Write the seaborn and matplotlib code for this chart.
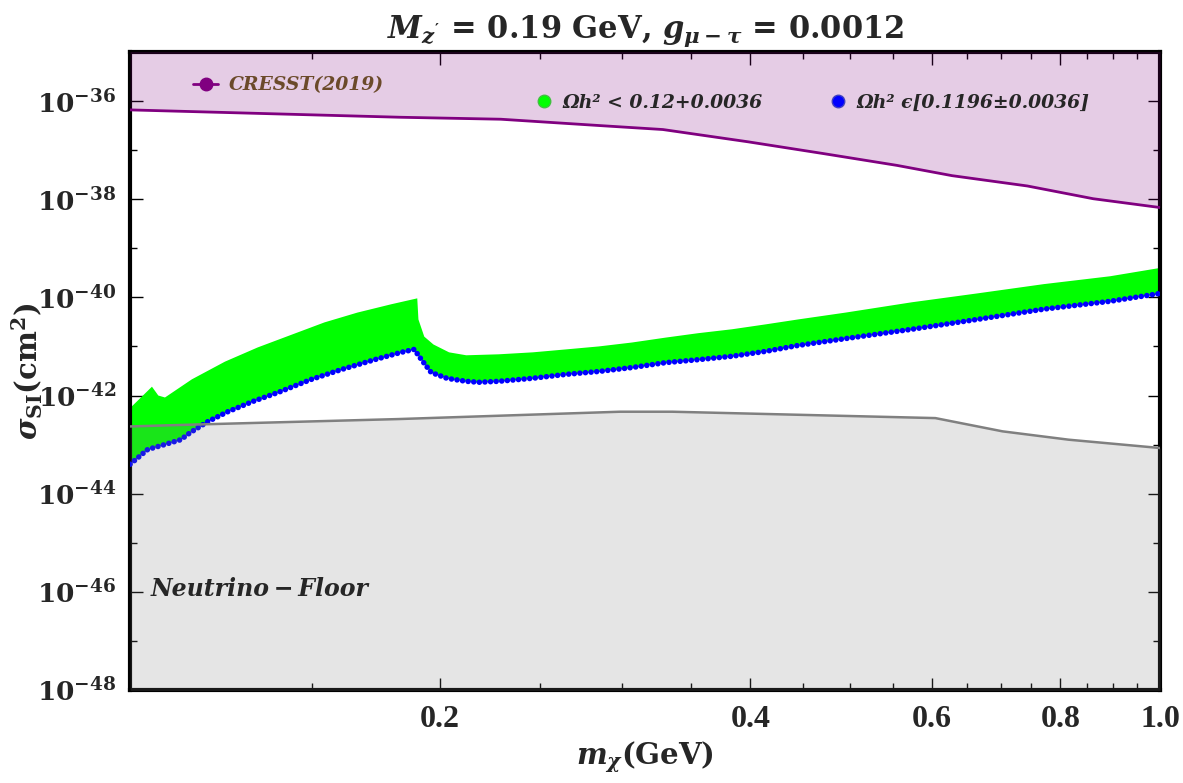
import numpy as np
import matplotlib
matplotlib.use("Agg")
import matplotlib.pyplot as plt
import matplotlib.ticker as mticker
from matplotlib.lines import Line2D
import seaborn as sns

# CRESST (2019) exclusion limit, log10(sigma / cm^2)
cresst_m = [0.1, 0.183, 0.229, 0.286, 0.329, 0.398, 0.471, 0.555, 0.628, 0.743, 0.861, 1.0]
cresst_log = [-36.18, -36.33, -36.37, -36.50, -36.58, -36.83, -37.07, -37.31, -37.52, -37.73, -37.99, -38.17]

# neutrino floor
floor_m = [0.1, 0.1162, 0.182, 0.299, 0.336, 0.605, 0.703, 0.815, 1.0]
floor_log = [-42.63, -42.59, -42.48, -42.33, -42.33, -42.46, -42.73, -42.90, -43.07]

# upper edge of the relic-allowed (green) points
upper_m = [0.1, 0.1004, 0.1050, 0.1065, 0.1081, 0.1148, 0.1236, 0.133, 0.1435, 0.1544,
           0.1662, 0.1793, 0.190, 0.1905, 0.193, 0.197, 0.204, 0.212, 0.228, 0.246,
           0.265, 0.285, 0.307, 0.331, 0.356, 0.384, 0.414, 0.445, 0.495, 0.574,
           0.664, 0.771, 0.894, 1.0]
upper_log = [-42.22, -42.22, -41.82, -42.00, -42.04, -41.67, -41.31, -41.02, -40.76, -40.51,
             -40.31, -40.14, -40.02, -40.45, -40.80, -40.96, -41.12, -41.18, -41.16, -41.12,
             -41.06, -41.00, -40.92, -40.82, -40.73, -40.65, -40.55, -40.45, -40.31, -40.10,
             -39.92, -39.73, -39.57, -39.40]

# lower edge = points with the exact relic density (blue)
lower_m = [0.1, 0.104, 0.108, 0.112, 0.1143, 0.119, 0.1244, 0.1316, 0.1391, 0.150,
           0.1604, 0.1727, 0.1833, 0.1887, 0.1918, 0.196, 0.2031, 0.2119, 0.218, 0.228,
           0.2456, 0.2647, 0.285, 0.307, 0.331, 0.356, 0.384, 0.414, 0.445, 0.495,
           0.574, 0.664, 0.771, 0.894, 1.0]
lower_log = [-43.40, -43.10, -43.00, -42.90, -42.76, -42.53, -42.33, -42.12, -41.94, -41.67,
             -41.47, -41.27, -41.12, -41.06, -41.27, -41.53, -41.65, -41.71, -41.73, -41.71,
             -41.65, -41.57, -41.51, -41.43, -41.33, -41.27, -41.20, -41.10, -40.98, -40.84,
             -40.65, -40.45, -40.24, -40.08, -39.92]

xticks = [0.2, 0.4, 0.6, 0.8, 1.0]
xticklabels = ["0.2", "0.4", "0.6", "0.8", "1.0"]

sns.set_style("ticks")
plt.rcParams['font.family'] = ['DejaVu Serif']
plt.rcParams['mathtext.fontset'] = 'custom'
plt.rcParams['mathtext.rm'] = 'DejaVu Serif:bold'
plt.rcParams['mathtext.bf'] = 'DejaVu Serif:bold'
plt.rcParams['mathtext.it'] = 'DejaVu Serif:bold:italic'

cresst_s = 10.0 ** np.array(cresst_log)
floor_s = 10.0 ** np.array(floor_log)
upper_s = 10.0 ** np.array(upper_log)
lower_s = 10.0 ** np.array(lower_log)

fig = plt.figure(figsize=(11.83, 7.83), dpi=100)
ax = fig.add_axes([0.110, 0.1188, 0.8707, 0.8148])
ax.set_xscale('log')
ax.set_yscale('log')
ax.set_xlim(0.1, 1.0)
ax.set_ylim(1e-48, 1e-35)

# green band and blue edge
ax.fill(np.r_[upper_m, lower_m[::-1]], np.r_[upper_s, lower_s[::-1]],
        color='#00FF00', lw=0, zorder=2)
ax.plot(lower_m, lower_s, color='#0000FF', lw=4, ls=(0, (0.01, 1.0)),
        dash_capstyle='round', zorder=3)

# excluded regions
ax.fill_between(cresst_m, cresst_s, 1e-30, color='#800080', alpha=0.2, lw=0, zorder=4)
sns.lineplot(x=cresst_m, y=cresst_s, color='#800080', lw=2, sort=False, ax=ax, zorder=5)
ax.fill_between(floor_m, 1e-50, floor_s, color='#808080', alpha=0.2, lw=0, zorder=4)
sns.lineplot(x=floor_m, y=floor_s, color='#808080', lw=1.8, sort=False, ax=ax, zorder=5)

# axes styling
for sp in ax.spines.values():
    sp.set_linewidth(3)
    sp.set_color('black')
ax.set_xticks(xticks, xticklabels, fontsize=23, fontweight='bold', family='Liberation Serif')
ax.xaxis.set_minor_locator(mticker.FixedLocator(
    [0.15, 0.25, 0.3, 0.35, 0.45, 0.5, 0.55, 0.65, 0.7, 0.75, 0.85, 0.9, 0.95]))
ax.xaxis.set_minor_formatter(mticker.NullFormatter())
ax.yaxis.set_major_locator(mticker.FixedLocator([10.0 ** e for e in range(-48, -35, 2)]))
ax.yaxis.set_minor_locator(mticker.FixedLocator([10.0 ** e for e in range(-47, -34, 2)]))
ax.yaxis.set_major_formatter(mticker.FuncFormatter(
    lambda v, p: r"$\mathbf{10^{%d}}$" % round(np.log10(v))))
ax.yaxis.set_minor_formatter(mticker.NullFormatter())
ax.tick_params(which='both', direction='in', top=True, right=True, width=1, color='black')
ax.tick_params(axis='y', which='major', length=9, labelsize=19, pad=10)
ax.tick_params(axis='x', which='major', length=9, pad=11)
ax.tick_params(which='minor', length=5)

ax.set_xlabel(r"$m_\chi$(GeV)", fontsize=21, fontweight='bold', labelpad=4)
ax.set_ylabel(r"$\sigma_{\mathbf{SI}}$(cm$^{\mathbf{2}}$)", fontsize=21, fontweight='bold')
ax.yaxis.set_label_coords(-0.083, 0.5)
ax.set_title(r"$M_{z'}$ = 0.19 GeV, $g_{\mu-\tau}$ = 0.0012", fontsize=22,
             fontweight='bold', pad=10)

ax.text(0.02, 0.148, "Neutrino\u2009\u2212\u2009Floor", transform=ax.transAxes,
        fontsize=17, fontweight='bold', fontstyle='italic', zorder=6)

h1 = [Line2D([], [], color='#800080', lw=2, marker='o', ms=9, label='CRESST(2019)')]
leg1 = ax.legend(handles=h1, loc='center left', bbox_to_anchor=(0.045, 0.948),
                 frameon=False, handlelength=1.3, handletextpad=0.6,
                 prop={'size': 13.5, 'weight': 'bold', 'style': 'italic'},
                 labelcolor='#6B4A2A')
leg1.set_zorder(7)
ax.add_artist(leg1)

h2 = [Line2D([], [], ls='none', marker='o', ms=9, color='#00FF00', mec='#40C040',
             label='\u03a9h\u00b2 < 0.12+0.0036'),
      Line2D([], [], ls='none', marker='o', ms=9, color='#0000FF', mec='#4040C0',
             label='\u03a9h\u00b2 \u03f5[0.1196\u00b10.0036]')]
leg2 = ax.legend(handles=h2, loc='center left', bbox_to_anchor=(0.378, 0.92), ncol=2,
                 frameon=False, handlelength=0.8, handletextpad=0.6, columnspacing=3.6,
                 prop={'size': 13.5, 'weight': 'bold', 'style': 'italic'})
leg2.set_zorder(7)

fig.savefig('out.png', dpi=100)
